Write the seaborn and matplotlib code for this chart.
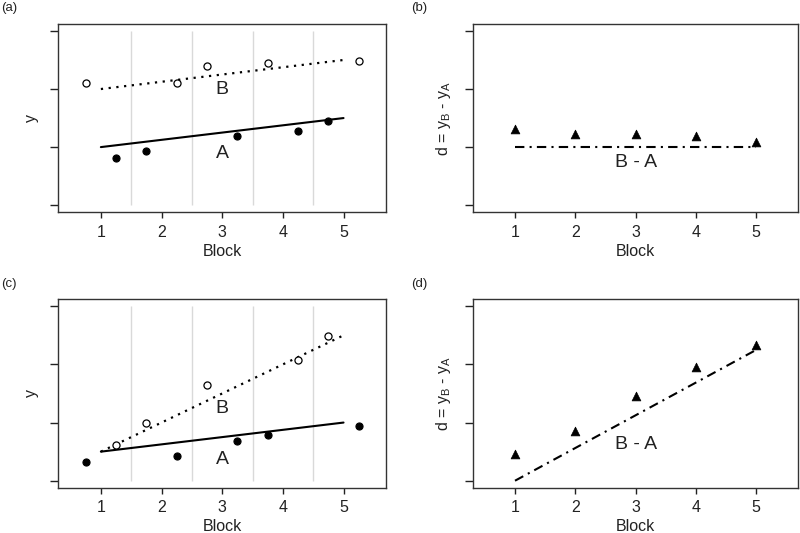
import matplotlib

matplotlib.use("Agg")
import matplotlib.pyplot as plt
import pandas as pd
import seaborn as sns

# shared axes
block_ticks = [1, 2, 3, 4, 5]
y_ticks = [0, 1, 2, 3]
block_dividers = [1.5, 2.5, 3.5, 4.5]
line_x = [1, 5]

# panel (a): constant offset
a_x_A = [1.25, 1.75, 3.25, 4.25, 4.75]
a_y_A = [0.82, 0.93, 1.19, 1.27, 1.45]
a_x_B = [0.75, 2.25, 2.75, 3.75, 5.25]
a_y_B = [2.11, 2.11, 2.39, 2.45, 2.49]
a_line_A = [1.0, 1.5]
a_line_B = [2.0, 2.5]

# panel (b): differences
b_d = [1.32, 1.22, 1.23, 1.19, 1.08]
b_line = [1.0, 1.0]

# panel (c): diverging treatments
c_x_A = [0.75, 2.25, 3.25, 3.75, 5.25]
c_y_A = [0.33, 0.42, 0.69, 0.78, 0.94]
c_x_B = [1.25, 1.75, 2.75, 4.25, 4.75]
c_y_B = [0.61, 0.99, 1.65, 2.07, 2.49]
c_line_A = [0.5, 1.0]
c_line_B = [0.5, 2.5]

# panel (d): differences
d_d = [0.46, 0.86, 1.46, 1.95, 2.34]
d_line = [0.0, 2.25]

sns.set_theme(style="white")
plt.rcParams["font.family"] = ["Liberation Sans", "DejaVu Sans"]
plt.rcParams["mathtext.default"] = "regular"

INK = "#222222"
DOTTED = (0, (1, 2.5))
DOTDASH = (0, (4.5, 2.5, 1, 2.5))


def style_axes(ax, ylabel, ypad):
    ax.set_xlim(0.3, 5.7)
    ax.set_ylim(-0.12, 3.12)
    ax.set_xticks(block_ticks)
    ax.set_xticklabels([str(t) for t in block_ticks])
    ax.set_yticks(y_ticks)
    ax.set_yticklabels([])
    ax.tick_params(axis="x", direction="out", length=4, width=1, color=INK,
                   labelsize=11.5, labelcolor=INK, pad=5, bottom=True)
    ax.tick_params(axis="y", direction="out", length=6, width=1, color=INK,
                   left=True, pad=0)
    for sp in ax.spines.values():
        sp.set_color("#333333")
        sp.set_linewidth(1.0)
    ax.set_xlabel("Block", fontsize=11.5, color=INK, labelpad=3)
    ax.set_ylabel(ylabel, fontsize=11.5, color=INK, labelpad=ypad)


def plot_pair(ax, xA, yA, xB, yB, lineA, lineB):
    ax.vlines(block_dividers, 0, 3, color="#d9d9d9", linewidth=1.0, zorder=0)
    sns.lineplot(x=line_x, y=lineA, ax=ax, color="black", linewidth=1.5)
    sns.lineplot(x=line_x, y=lineB, ax=ax, color="black", linewidth=1.6,
                 linestyle=DOTTED)
    sns.scatterplot(x=xA, y=yA, ax=ax, color="black", marker="o", s=26,
                    edgecolor="black", linewidth=0.8, zorder=3)
    sns.scatterplot(x=xB, y=yB, ax=ax, marker="o", s=26, facecolor="white",
                    edgecolor="black", linewidth=0.9, zorder=3)


def plot_diff(ax, d, line):
    df = pd.DataFrame({"block": block_ticks, "d": d})
    sns.lineplot(x=line_x, y=line, ax=ax, color="black", linewidth=1.5,
                 linestyle=DOTDASH)
    sns.scatterplot(data=df, x="block", y="d", ax=ax, color="black",
                    marker="^", s=40, edgecolor="black", linewidth=0.5, zorder=3)


fig = plt.figure(figsize=(8, 5.33), dpi=100)
ax_a = fig.add_axes([0.073, 0.602, 0.4095, 0.353])
ax_b = fig.add_axes([0.591, 0.602, 0.407, 0.353])
ax_c = fig.add_axes([0.073, 0.085, 0.4095, 0.3535])
ax_d = fig.add_axes([0.591, 0.085, 0.407, 0.3535])

plot_pair(ax_a, a_x_A, a_y_A, a_x_B, a_y_B, a_line_A, a_line_B)
ax_a.text(3, 1.99, "B", fontsize=14, color=INK, ha="center", va="center")
ax_a.text(3, 0.89, "A", fontsize=14, color=INK, ha="center", va="center")

plot_diff(ax_b, b_d, b_line)
ax_b.text(3, 0.73, "B - A", fontsize=14, color=INK, ha="center", va="center")

plot_pair(ax_c, c_x_A, c_y_A, c_x_B, c_y_B, c_line_A, c_line_B)
ax_c.text(3, 1.24, "B", fontsize=14, color=INK, ha="center", va="center")
ax_c.text(3, 0.37, "A", fontsize=14, color=INK, ha="center", va="center")

plot_diff(ax_d, d_d, d_line)
ax_d.text(3, 0.63, "B - A", fontsize=14, color=INK, ha="center", va="center")

dlabel = r"d = y$_{B}$ - y$_{A}$"
style_axes(ax_a, "y", 8)
style_axes(ax_b, dlabel, 8)
style_axes(ax_c, "y", 8)
style_axes(ax_d, dlabel, 8)

for label, (x, y) in zip(["(a)", "(b)", "(c)", "(d)"],
                         [(0.002, 0.985), (0.514, 0.985), (0.002, 0.467), (0.514, 0.467)]):
    fig.text(x, y, label, fontsize=9.5, color=INK, ha="left", va="center")

fig.savefig("out.png", dpi=100)
